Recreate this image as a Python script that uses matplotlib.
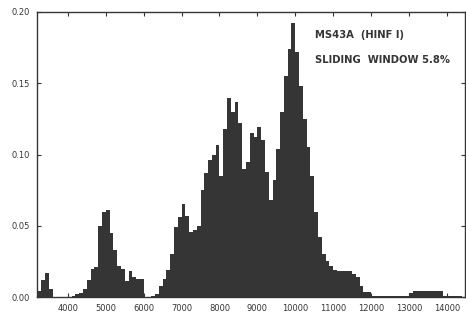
import numpy as np
import matplotlib
matplotlib.use("Agg")
import matplotlib.pyplot as plt

# fragment-length density, 100 bp bins from 3200
bin_start = 3200
bin_width = 100
density = [
    0.004, 0.012, 0.017, 0.006,                      # 3200-3500
    0.0, 0.0, 0.0, 0.0, 0.0,                          # 3600-4000
    0.001, 0.002, 0.003, 0.006, 0.012,                # 4100-4500
    0.020, 0.021, 0.050, 0.060, 0.061,                # 4600-5000
    0.045, 0.033, 0.022, 0.020, 0.011,                # 5100-5500
    0.018, 0.014, 0.013, 0.013, 0.0,                  # 5600-6000
    0.0, 0.001, 0.002, 0.008, 0.013,                  # 6100-6500
    0.019, 0.030, 0.049, 0.056, 0.065,                # 6600-7000
    0.057, 0.046, 0.047, 0.050, 0.075,                # 7100-7500
    0.087, 0.096, 0.100, 0.107, 0.085,                # 7600-8000
    0.118, 0.140, 0.130, 0.137, 0.122,                # 8100-8500
    0.090, 0.095, 0.115, 0.112, 0.119,                # 8600-9000
    0.110, 0.088, 0.068, 0.082, 0.104,                # 9100-9500
    0.130, 0.155, 0.174, 0.192, 0.172,                # 9600-10000
    0.148, 0.125, 0.105, 0.085, 0.060,                # 10100-10500
    0.042, 0.030, 0.025, 0.022, 0.019,                # 10600-11000
    0.018, 0.018, 0.018, 0.018, 0.016,                # 11100-11500
    0.014, 0.008, 0.0035, 0.0035, 0.001,              # 11600-12000
    0.001, 0.001, 0.001, 0.001, 0.001,                # 12100-12500
    0.001, 0.001, 0.001, 0.001, 0.003,                # 12600-13000
    0.004, 0.004, 0.004, 0.004, 0.004,                # 13100-13500
    0.004, 0.004, 0.004, 0.001, 0.0005,               # 13600-14000
    0.0005, 0.0005, 0.0005,                           # 14100-14300
]
x_ticks = [4000, 5000, 6000, 7000, 8000, 9000, 10000, 11000, 12000, 13000, 14000]
y_ticks = [0.00, 0.05, 0.10, 0.15, 0.20]
title_lines = ["MS43A  (HINF I)", "SLIDING  WINDOW 5.8%"]

edges = bin_start + bin_width * np.arange(len(density) + 1)

ink = "#353535"
fig = plt.figure(figsize=(4.66, 3.24), dpi=100)
ax = fig.add_axes([0.079, 0.083, 0.919, 0.880])

ax.stairs(density, edges, fill=True, color=ink, linewidth=0)

ax.set_xlim(3180, 14480)
ax.set_ylim(0, 0.2)
ax.set_xticks(x_ticks)
ax.set_xticklabels([str(t) for t in x_ticks])
ax.set_yticks(y_ticks)
ax.set_yticklabels(["%.2f" % t for t in y_ticks])
ax.tick_params(direction="in", length=3, width=0.8, colors=ink,
               labelsize=6, top=True, right=True, pad=5)
for s in ax.spines.values():
    s.set_color(ink)
    s.set_linewidth(1.0)

ax.text(0.65, 0.918, title_lines[0], transform=ax.transAxes,
        fontsize=7.2, fontweight="bold", color=ink, va="center")
ax.text(0.65, 0.830, title_lines[1], transform=ax.transAxes,
        fontsize=7.2, fontweight="bold", color=ink, va="center")

fig.savefig("out.png", dpi=100)
